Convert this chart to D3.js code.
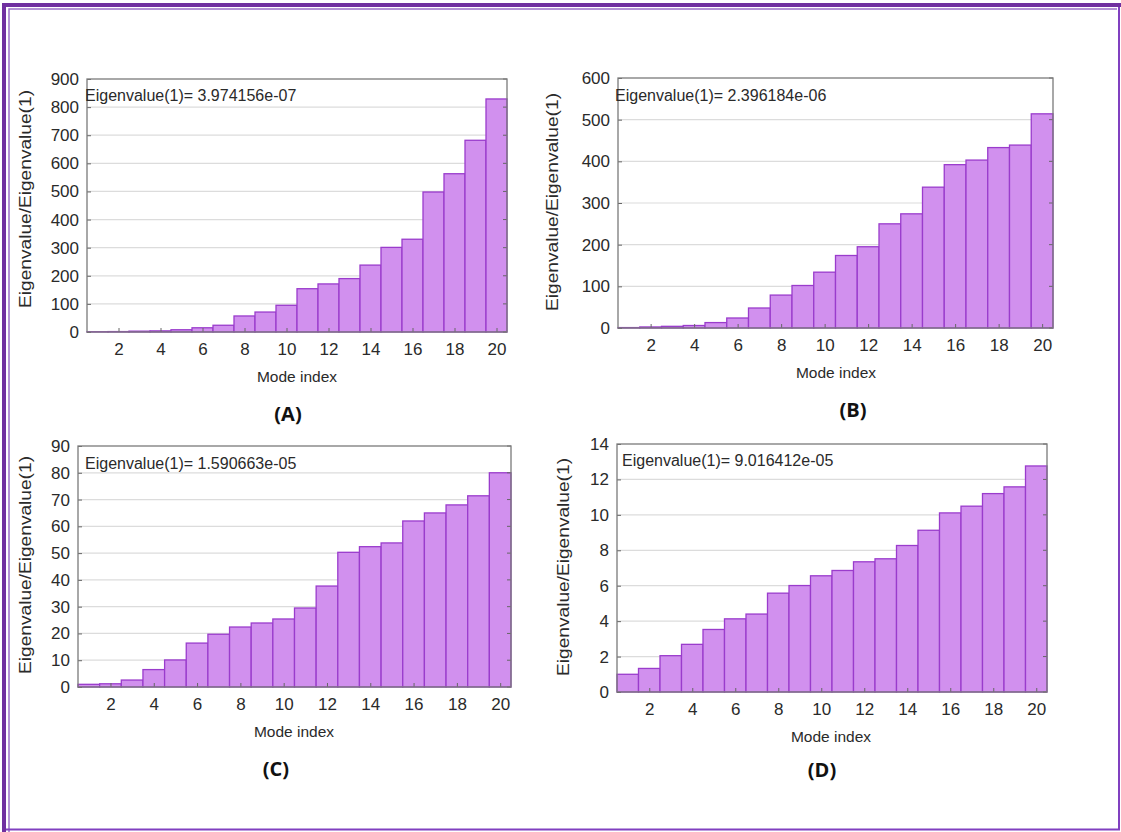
<!DOCTYPE html>
<html>
<head>
<meta charset="utf-8">
<script src="https://cdn.jsdelivr.net/npm/d3@7.9.0/dist/d3.min.js"></script>
<style>
  html, body { margin: 0; padding: 0; background: #fff; }
  svg { display: block; }
  .tick text { font-family: "Liberation Sans", Arial, sans-serif; }
</style>
</head>
<body>
<svg id="chart" width="1121" height="832"></svg>
<script>
// mode indices and eigenvalue ratios
const modeIndex = [1, 2, 3, 4, 5, 6, 7, 8, 9, 10, 11, 12, 13, 14, 15, 16, 17, 18, 19, 20];
const xTicks = [2, 4, 6, 8, 10, 12, 14, 16, 18, 20];

const ratiosA = [1, 1.5, 3, 4, 8, 15, 24, 57, 71, 95, 154, 171, 190, 238, 301, 330, 498, 563, 682, 829];
const ratiosB = [1, 2.5, 4, 6, 13, 24, 48, 79, 102, 134, 174, 195, 250, 274, 338, 392, 403, 433, 439, 514];
const ratiosC = [1, 1.2, 2.6, 6.5, 10.1, 16.4, 19.7, 22.4, 23.9, 25.4, 29.5, 37.7, 50.3, 52.4, 53.8, 62, 65, 68, 71.4, 80];
const ratiosD = [1, 1.33, 2.05, 2.69, 3.53, 4.13, 4.4, 5.58, 6.01, 6.56, 6.86, 7.35, 7.52, 8.27, 9.13, 10.11, 10.49, 11.2, 11.58, 12.76];

const yTicksA = [0, 100, 200, 300, 400, 500, 600, 700, 800, 900];
const yTicksB = [0, 100, 200, 300, 400, 500, 600];
const yTicksC = [0, 10, 20, 30, 40, 50, 60, 70, 80, 90];
const yTicksD = [0, 2, 4, 6, 8, 10, 12, 14];

const eig1 = ["3.974156e-07", "2.396184e-06", "1.590663e-05", "9.016412e-05"];
const panelLabels = ["(A)", "(B)", "(C)", "(D)"];

const panels = [
  { values: ratiosA, yTicks: yTicksA, yMax: 900, eig: eig1[0], label: panelLabels[0],
    box: { left: 87, right: 507, top: 79, bottom: 332 },
    yLab: [25, 199], xLab: [297, 377], pLab: [288, 414], note: [85, 95] },
  { values: ratiosB, yTicks: yTicksB, yMax: 600, eig: eig1[1], label: panelLabels[1],
    box: { left: 618, right: 1053, top: 78, bottom: 328 },
    yLab: [552, 202], xLab: [836, 373], pLab: [853, 410], note: [615, 95] },
  { values: ratiosC, yTicks: yTicksC, yMax: 90, eig: eig1[2], label: panelLabels[2],
    box: { left: 78, right: 511, top: 446, bottom: 687 },
    yLab: [25, 565], xLab: [294, 732], pLab: [276, 769], note: [85, 463] },
  { values: ratiosD, yTicks: yTicksD, yMax: 14, eig: eig1[3], label: panelLabels[3],
    box: { left: 617, right: 1047, top: 444, bottom: 692 },
    yLab: [563, 567], xLab: [831, 737], pLab: [822, 770], note: [622, 460] }
];

const svg = d3.select("#chart");

// page frame: heavy top/left, thin right/bottom
svg.append("path").attr("d", "M4,832 V5 H1121")
  .attr("fill", "none").attr("stroke", "#7030a0").attr("stroke-width", 4);
svg.append("path").attr("d", "M9,832 V9 H1117")
  .attr("fill", "none").attr("stroke", "#9a70c8").attr("stroke-width", 1.5);
svg.append("path").attr("d", "M1119,7 V829.5 H6")
  .attr("fill", "none").attr("stroke", "#8040c0").attr("stroke-width", 2);

panels.forEach(p => {
  const b = p.box;
  const x = d3.scaleLinear().domain([0.5, 20.5]).range([b.left, b.right]);
  const y = d3.scaleLinear().domain([0, p.yMax]).range([b.bottom, b.top]);
  const g = svg.append("g");

  // gridlines
  g.append("g")
    .selectAll("line")
    .data(p.yTicks.slice(1, -1))
    .join("line")
    .attr("x1", b.left).attr("x2", b.right)
    .attr("y1", d => y(d)).attr("y2", d => y(d))
    .attr("stroke", "#dcdcdc").attr("stroke-width", 1.2);

  // bars
  g.append("g")
    .selectAll("rect")
    .data(modeIndex)
    .join("rect")
    .attr("x", d => x(d - 0.5))
    .attr("width", x(1.5) - x(0.5))
    .attr("y", (d, i) => y(p.values[i]))
    .attr("height", (d, i) => y(0) - y(p.values[i]))
    .attr("fill", "#d190ee")
    .attr("stroke", "#9a3ccc")
    .attr("stroke-width", 1.3);

  // axes
  const yAxis = g.append("g")
    .attr("transform", `translate(${b.left},0)`)
    .call(d3.axisLeft(y).tickValues(p.yTicks).tickSize(-4).tickPadding(8));
  const xAxis = g.append("g")
    .attr("transform", `translate(0,${b.bottom})`)
    .call(d3.axisBottom(x).tickValues(xTicks).tickSize(-4).tickPadding(11));
  [yAxis, xAxis].forEach(a => {
    a.select(".domain").remove();
    a.selectAll(".tick line").attr("stroke", "#666");
    a.selectAll(".tick text").attr("fill", "#2a2a2a").style("font-size", "17px");
  });
  // right side tick marks
  g.append("g")
    .selectAll("line")
    .data(p.yTicks)
    .join("line")
    .attr("x1", b.right).attr("x2", b.right - 4)
    .attr("y1", d => y(d)).attr("y2", d => y(d))
    .attr("stroke", "#666");

  // frame
  g.append("rect")
    .attr("x", b.left).attr("y", b.top)
    .attr("width", b.right - b.left).attr("height", b.bottom - b.top)
    .attr("fill", "none").attr("stroke", "#7a7a7a").attr("stroke-width", 1.3);

  // annotation
  g.append("text")
    .attr("x", p.note[0]).attr("y", p.note[1])
    .attr("dy", "0.35em")
    .attr("font-family", "Liberation Sans, Arial, sans-serif")
    .attr("font-size", 16)
    .attr("fill", "#2a2a2a")
    .text("Eigenvalue(1)= " + p.eig);

  // axis titles
  g.append("text")
    .attr("transform", `translate(${p.yLab[0]},${p.yLab[1]}) rotate(-90)`)
    .attr("text-anchor", "middle").attr("dy", "0.35em")
    .attr("font-family", "Liberation Sans, Arial, sans-serif")
    .attr("font-size", 16)
    .attr("textLength", 218).attr("lengthAdjust", "spacingAndGlyphs")
    .attr("fill", "#2a2a2a")
    .text("Eigenvalue/Eigenvalue(1)");
  g.append("text")
    .attr("x", p.xLab[0]).attr("y", p.xLab[1])
    .attr("text-anchor", "middle").attr("dy", "0.35em")
    .attr("font-family", "Liberation Sans, Arial, sans-serif")
    .attr("font-size", 15.5)
    .attr("fill", "#2a2a2a")
    .text("Mode index");

  // panel label
  g.append("text")
    .attr("x", p.pLab[0]).attr("y", p.pLab[1])
    .attr("text-anchor", "middle").attr("dy", "0.35em")
    .attr("font-family", "Open Sans, sans-serif")
    .attr("font-weight", "bold")
    .attr("font-size", 20)
    .attr("fill", "#111")
    .text(p.label);
});
</script>
</body>
</html>
